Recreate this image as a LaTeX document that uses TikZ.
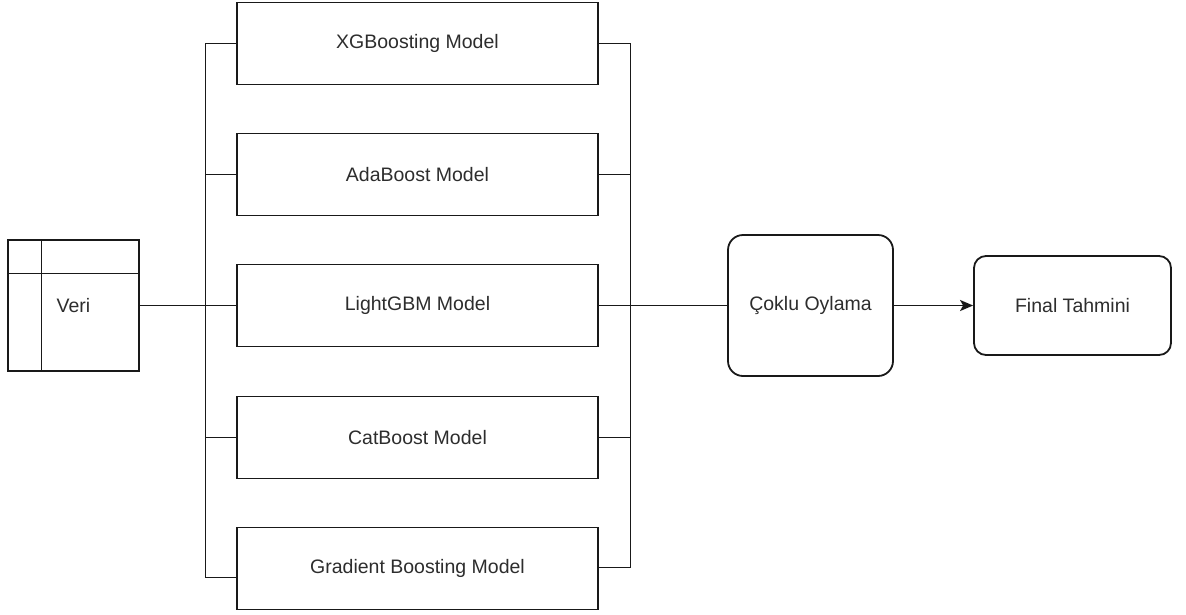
\documentclass[tikz,border=0pt]{standalone}
\usepackage{fontspec}
\setmainfont{Liberation Sans}
\usetikzlibrary{arrows.meta}
\definecolor{txt}{RGB}{45,45,45}
\definecolor{ln}{RGB}{25,25,25}
\begin{document}
\begin{tikzpicture}[x=1pt,y=-1pt,line width=1.8pt,
  lbl/.style={font=\fontsize{19.5}{23}\selectfont,text=txt},
  model/.style={draw=ln,line width=1.8pt,lbl,minimum width=361pt,minimum height=82pt,inner sep=0pt},
  rbox/.style={draw=ln,line width=1.8pt,lbl,rounded corners=15pt,inner sep=0pt},
  wire/.style={draw=ln,line width=1.8pt},
  arr/.style={wire,-{Stealth[length=13pt,width=11pt,inset=3pt]}}]
\useasboundingbox[fill=white] (0,0) rectangle (1186,614);
% data table
\node[draw=ln,line width=1.8pt,lbl,minimum width=131pt,minimum height=131pt,inner sep=0pt] (veri) at (73.5,305.5) {Veri};
\draw[wire] (41.5,240) -- (41.5,371);
\draw[wire] (8,273.5) -- (139,273.5);
% models
\node[model] (m1) at (417.5,43.5) {XGBoosting Model};
\node[model] (m2) at (417.5,174.5) {AdaBoost Model};
\node[model] (m3) at (417.5,305.5) {LightGBM Model};
\node[model] (m4) at (417.5,437.5) {CatBoost Model};
\node[model] (m5) at (417.5,568.5) {Gradient Boosting Model};
% voting and result
\node[rbox,minimum width=165pt,minimum height=141pt] (vote) at (810.5,305.5) {Çoklu Oylama};
\node[rbox,rounded corners=12pt,minimum width=197pt,minimum height=99pt] (final) at (1072.5,305.5) {Final Tahmini};
% left bus
\coordinate (ltop) at (205.5,43.5);
\coordinate (lmid) at (205.5,305.5);
\coordinate (lbot) at (205.5,577.5);
\draw[wire] (veri.east) -- (lmid);
\draw[wire] (m1.west) -- (ltop) -- (lbot) -- ([yshift=-9pt]m5.west);
\draw[wire] (m2.west) -- (m2.west -| ltop);
\draw[wire] (m3.west) -- (lmid);
\draw[wire] (m4.west) -- (m4.west -| ltop);
% right bus
\coordinate (rtop) at (630.5,43.5);
\coordinate (rbot) at (630.5,567.5);
\draw[wire] (m1.east) -- (rtop) -- (rbot) -- ([yshift=1pt]m5.east);
\draw[wire] (m2.east) -- (m2.east -| rtop);
\draw[wire] (m4.east) -- (m4.east -| rtop);
\draw[wire] (m3.east) -- (vote.west);
\draw[arr] (vote.east) -- (final.west);
\end{tikzpicture}
\end{document}
